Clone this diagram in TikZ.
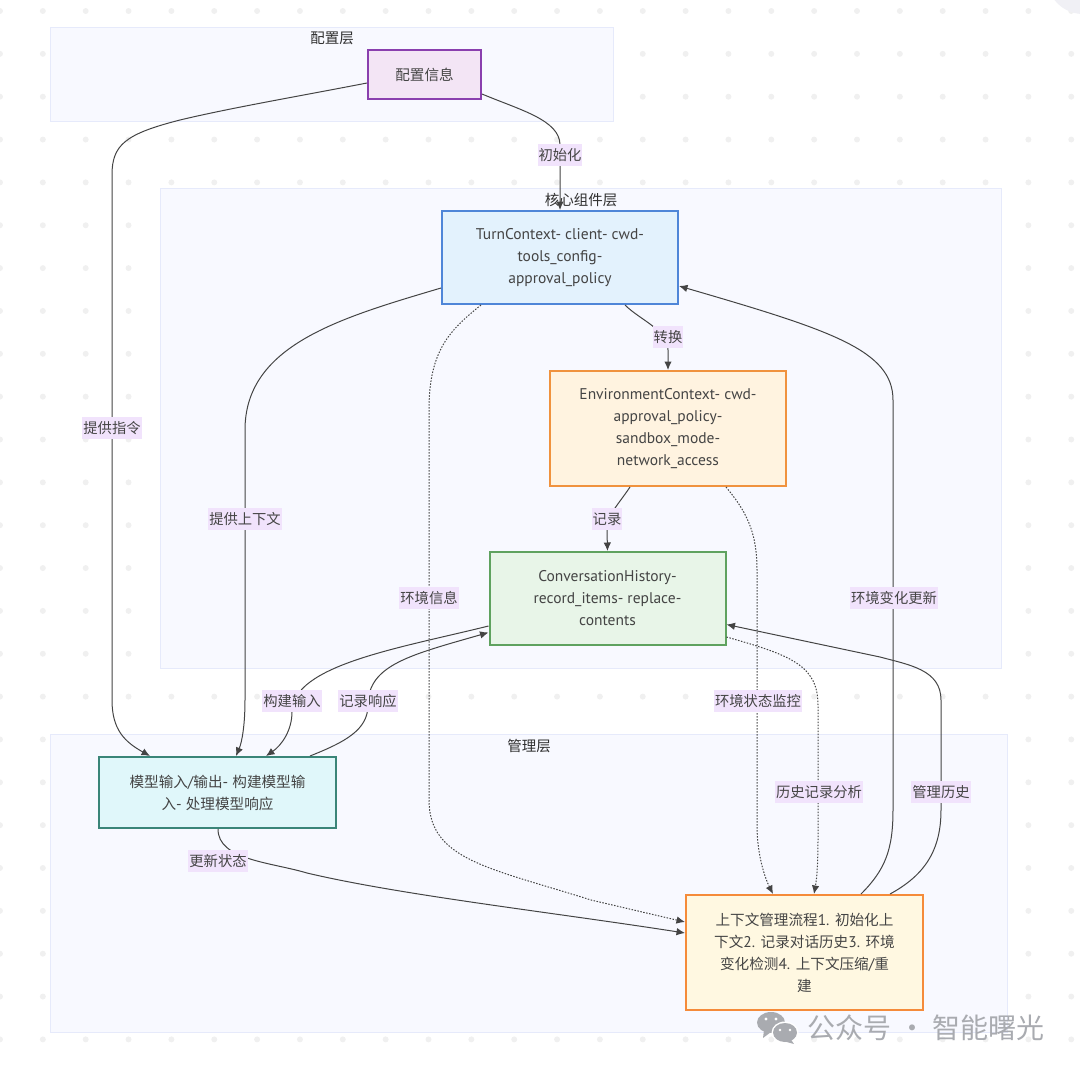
\documentclass[tikz,border=0pt]{standalone}
\usepackage{fontspec}
\setmainfont{PT Sans}
\newfontfamily\cjk{Noto Sans CJK SC}
\newcommand\boxcjk{\fontsize{14.6}{22}\selectfont\cjk}
\usetikzlibrary{positioning,shapes,arrows.meta,calc}
\definecolor{inkgray}{HTML}{444444}
\definecolor{dotgray}{HTML}{F0F0F0}
\definecolor{blobgray}{HTML}{F0F0F5}
\definecolor{panelfill}{HTML}{F8F9FF}
\definecolor{panelline}{HTML}{E6EAFB}
\definecolor{labelfill}{HTML}{F1E3FC}
\definecolor{markgray}{HTML}{A9ABB0}
\definecolor{cfgfill}{HTML}{F3E5F5}
\definecolor{cfgline}{HTML}{8A3FAE}
\definecolor{turnfill}{HTML}{E3F2FD}
\definecolor{turnline}{HTML}{4F86D8}
\definecolor{envfill}{HTML}{FFF3E0}
\definecolor{envline}{HTML}{F0923E}
\definecolor{histfill}{HTML}{E8F5E8}
\definecolor{histline}{HTML}{5FA25F}
\definecolor{modelfill}{HTML}{E0F7FA}
\definecolor{modelline}{HTML}{3A8578}
\definecolor{procfill}{HTML}{FFF8E1}
\definecolor{procline}{HTML}{F58B3A}
\tikzset{
  panel/.style={draw=panelline, fill=panelfill, line width=1pt},
  paneltitle/.style={inner sep=0pt, text=inkgray!70!black, font=\fontsize{14.5}{14}\selectfont\cjk},
  box/.style={draw, line width=2pt, inner sep=0pt, align=center, text=inkgray,
    font=\fontsize{15.5}{22}\selectfont},
  edge/.style={draw=inkgray, line width=1pt, -{Latex[length=8.5pt,width=7.5pt]}},
  dotedge/.style={edge, dash pattern=on 1.5pt off 1.5pt},
  edgelabel/.style={fill=labelfill, inner xsep=1pt, inner ysep=0pt, minimum height=22pt,
    text=inkgray, font=\fontsize{14.3}{14}\selectfont\cjk}
}
\begin{document}
\begin{tikzpicture}[x=1pt, y=-1pt]
  \useasboundingbox (0,0) rectangle (1080,1072);
  % background dots
  \foreach \i in {0,...,25} {
    \foreach \j in {0,...,24} {
      \fill[dotgray] ({42.85*\i},{11+42.85*\j}) circle (3);
    }
  }
  \begin{scope}
    \clip (0,0) rectangle (1080,1072);
    \fill[blobgray] (1083,-22) circle (36);
  \end{scope}
  % layers
  \draw[panel] (50,27) rectangle (613,121);
  \draw[panel] (160,188) rectangle (1001,668);
  \draw[panel] (50,734) rectangle (1007,1032);
  \node[paneltitle] (cfgtitle) at (332,38) {配置层};
  \node[paneltitle] (coretitle) at (581,200) {核心组件层};
  \node[paneltitle] (mgrtitle) at (529,746) {管理层};
  % boxes
  \node[box, draw=cfgline, fill=cfgfill, minimum width=113, minimum height=49] (cfg) at (424.5,74.5) {\boxcjk 配置信息};
  \node[box, draw=turnline, fill=turnfill, minimum width=236, minimum height=93] (turn) at (560,257.5)
    {TurnContext- client- cwd-\\tools\_config-\\approval\_policy};
  \node[box, draw=envline, fill=envfill, minimum width=236, minimum height=115] (env) at (668,428.5)
    {EnvironmentContext- cwd-\\approval\_policy-\\sandbox\_mode-\\network\_access};
  \node[box, draw=histline, fill=histfill, minimum width=236, minimum height=93] (hist) at (607.5,598.5)
    {ConversationHistory-\\record\_items- replace-\\contents};
  \node[box, draw=modelline, fill=modelfill, minimum width=237, minimum height=71] (model) at (217.5,792.5)
    {{\boxcjk 模型输入}/{\boxcjk 输出}- {\boxcjk 构建模型输}\\{\boxcjk 入}- {\boxcjk 处理模型响应}};
  \node[box, draw=procline, fill=procfill, minimum width=237, minimum height=115] (proc) at (804.5,952.5)
    {{\boxcjk 上下文管理流程}1. {\boxcjk 初始化上}\\{\boxcjk 下文}2. {\boxcjk 记录对话历史}3. {\boxcjk 环境}\\{\boxcjk 变化检测}4. {\boxcjk 上下文压缩}/{\boxcjk 重}\\{\boxcjk 建}};
  % connectors
  \draw[edge] ($(cfg.west)+(0,8.5)$) .. controls (300,96) and (230,108) .. (180,120)
    .. controls (125,134) and (112,145) .. (112,175) -- (112,700)
    .. controls (112,730) and (125,742) .. ($(model.north west)+(52,0)$);
  \draw[edge] ($(cfg.east)+(0,19.5)$) .. controls (520,110) and (560,120) .. (560,145) -- (turn.north);
  \draw[edge] ($(turn.west)+(0,30.5)$) .. controls (340,318) and (245,345) .. (245,430) -- (245,700)
    .. controls (245,725) and (242,742) .. ($(model.north west)+(138,0)$);
  \draw[edge] ($(turn.south)+(65,0)$) .. controls (640,320) and (668,330) .. (668,350) -- (env.north);
  \draw[dotedge] ($(turn.south west)+(40,0)$) .. controls (450,330) and (429,350) .. (429,410) -- (429,800)
    .. controls (429,860) and (490,868) .. (591,900) -- ($(proc.west)+(0,-30.5)$);
  \draw[dotedge] ($(env.south)+(58,0)$) .. controls (745,510) and (757,530) .. (757,570) -- (757,825)
    .. controls (757,855) and (765,878) .. ($(proc.north west)+(88,0)$);
  \draw[edge] ($(env.south)+(-38,0)$) .. controls (618,505) and (607,515) .. (607,530) -- (hist.north);
  \draw[edge] ($(hist.west)+(0,27.5)$) .. controls (400,648) and (292,665) .. (292,712)
    .. controls (292,730) and (282,745) .. ($(model.north west)+(168,0)$);
  \draw[edge] ($(model.north west)+(212,0)$) .. controls (345,742) and (368,730) .. (368,705)
    .. controls (368,665) and (410,655) .. ($(hist.west)+(0,34)$);
  \draw[dotedge] ($(hist.east)+(0,38.5)$) .. controls (790,655) and (818,665) .. (818,705) -- (818,840)
    .. controls (818,860) and (817,878) .. ($(proc.north west)+(129,0)$);
  \draw[edge] ($(proc.north west)+(176,0)$) .. controls (885,870) and (893,850) .. (893,810) -- (893,400)
    .. controls (893,350) and (830,330) .. ($(turn.east)+(0,28.5)$);
  \draw[edge] ($(proc.north west)+(205,0)$) .. controls (925,875) and (941,850) .. (941,810) -- (941,700)
    .. controls (941,670) and (910,665) .. (880,657) -- ($(hist.east)+(0,26)$);
  \draw[edge] ($(model.south)+(0.5,0)$) .. controls (218,860) and (270,862) .. (307,873)
    .. controls (400,895) and (550,912) .. ($(proc.west)+(0,-19.5)$);
  % connector labels
  \node[edgelabel] (lblinit) at (560,155) {初始化};
  \node[edgelabel] (lblinstr) at (112,428) {提供指令};
  \node[edgelabel] (lblctx) at (245,519) {提供上下文};
  \node[edgelabel] (lblconv) at (668,337) {转换};
  \node[edgelabel] (lblenvinfo) at (429,598) {环境信息};
  \node[edgelabel] (lblrec) at (607,519) {记录};
  \node[edgelabel] (lblupd) at (894,598) {环境变化更新};
  \node[edgelabel] (lblinput) at (292,701) {构建输入};
  \node[edgelabel] (lblresp) at (368,701) {记录响应};
  \node[edgelabel] (lblmon) at (758,701) {环境状态监控};
  \node[edgelabel] (lblhist) at (819,792) {历史记录分析};
  \node[edgelabel] (lblmgr) at (941,792) {管理历史};
  \node[edgelabel] (lblstate) at (218,861) {更新状态};
  % watermark
  \fill[markgray] (771,1022.5) ellipse (14 and 10.5);
  \fill[markgray] (764,1030) -- (763,1038) -- (771,1032) -- cycle;
  \fill[white] (785,1032.5) ellipse (13.5 and 11);
  \fill[markgray] (785,1032.5) ellipse (12 and 9.5);
  \fill[markgray] (790,1038) -- (794,1044) -- (783,1041) -- cycle;
  \foreach \x in {766,776} { \fill[white] (\x,1019) circle (1.6); }
  \foreach \x in {780,790} { \fill[white] (\x,1030) circle (1.4); }
  \node[inner sep=0pt, text=markgray, font=\fontsize{28}{28}\selectfont\cjk] (mark) at (926,1028) {公众号 · 智能曙光};
\end{tikzpicture}
\end{document}
